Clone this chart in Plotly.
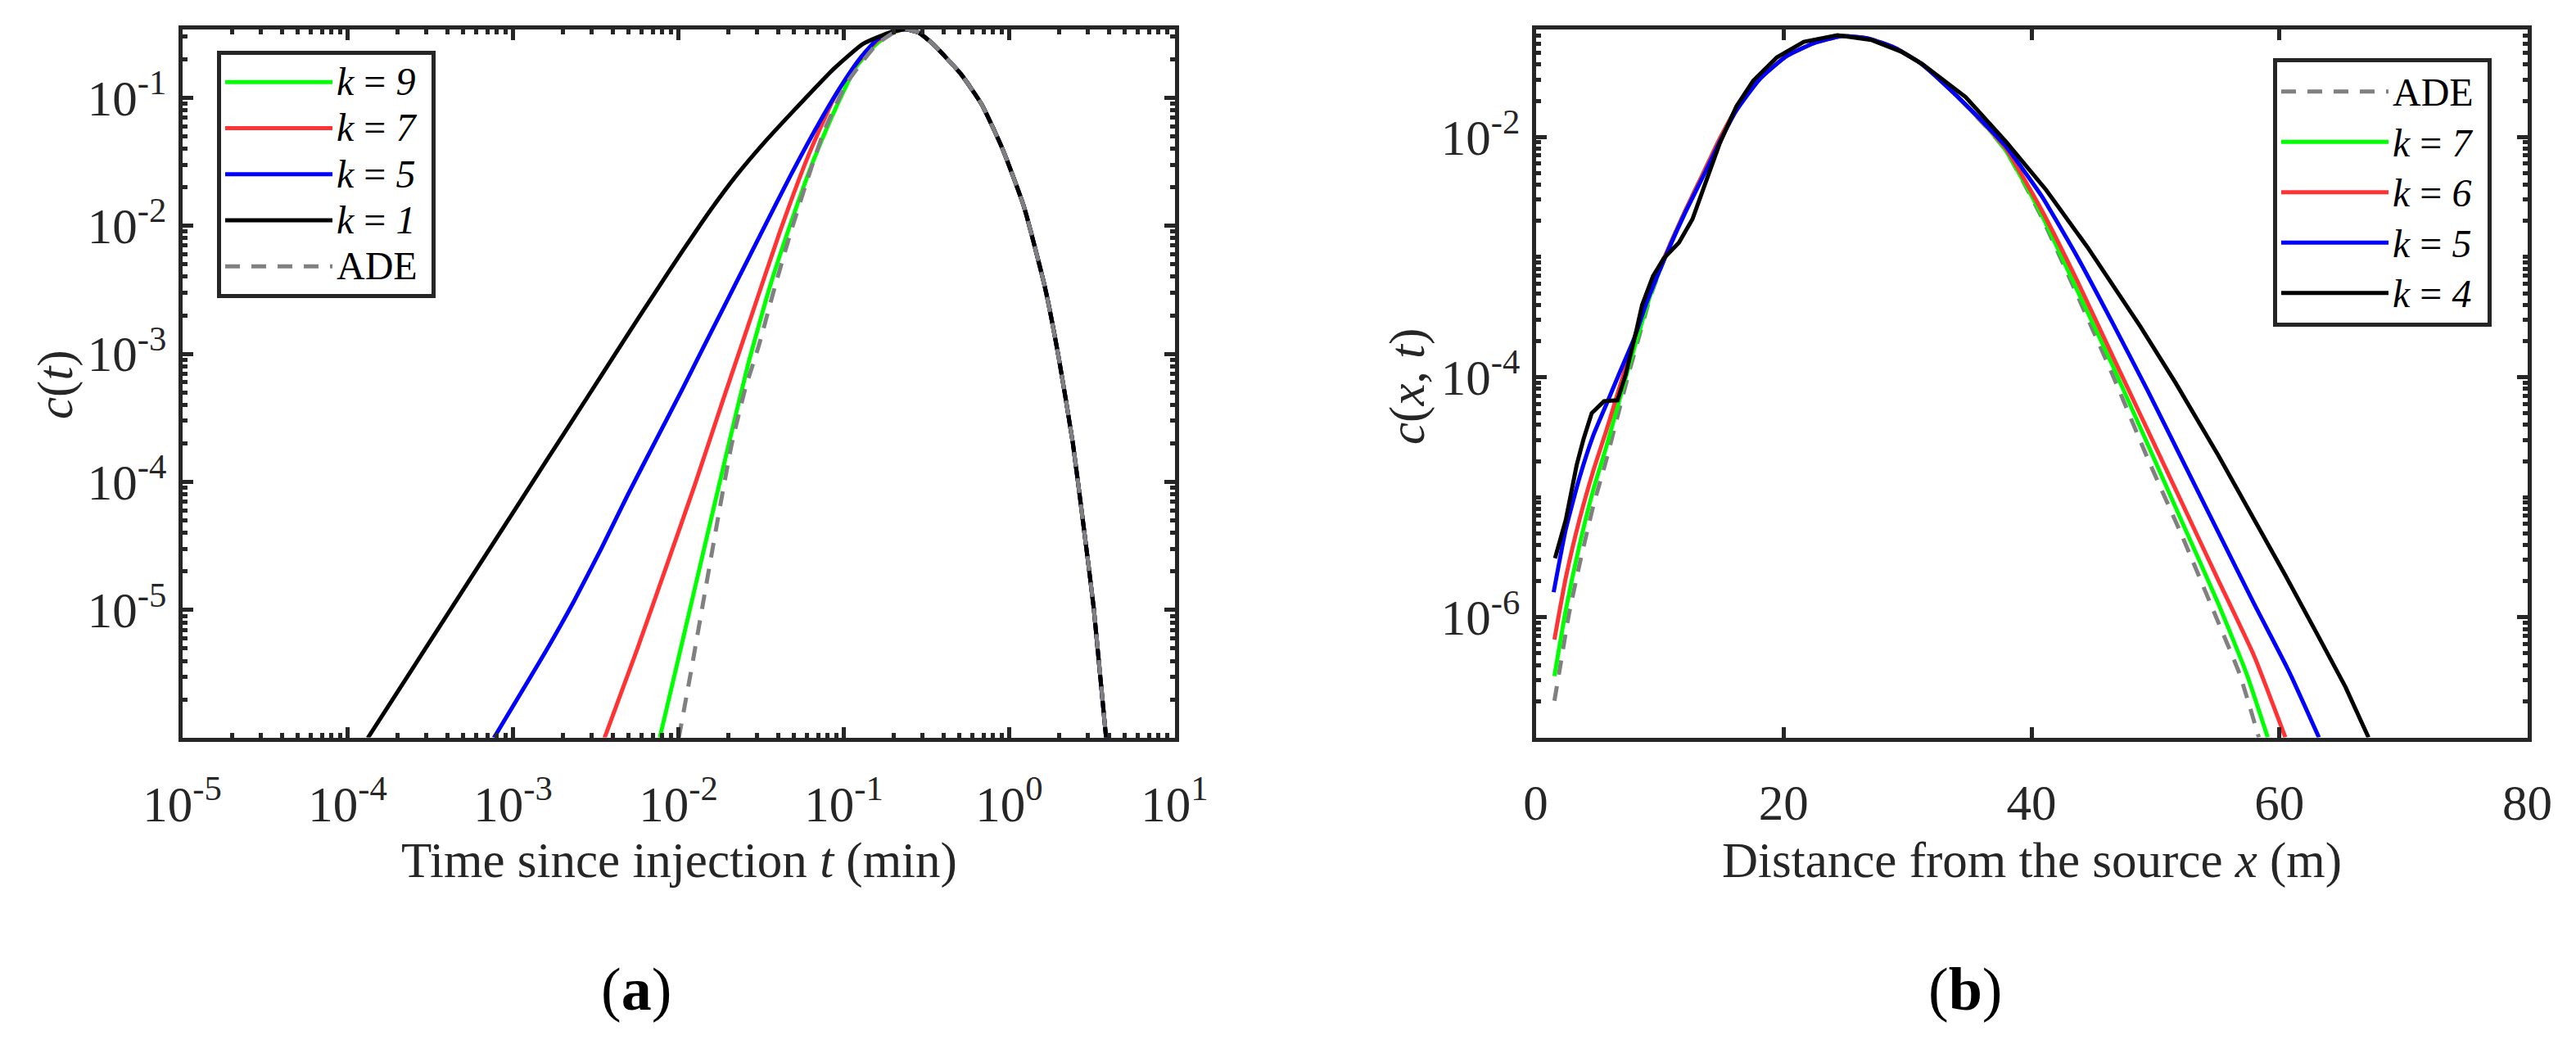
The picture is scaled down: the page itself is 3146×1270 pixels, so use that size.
import plotly.graph_objects as go

W, H = 3146, 1270
FONT = "Liberation Serif"
AXC = "#262626"

# ---------------- Panel (a): c(t) vs time (log-log) ----------------
t_tail = [0.2818, 0.3459, 0.5105, 0.684, 0.916, 1.227, 1.644, 1.995, 2.427, 2.805, 3.25, 3.855]
c_tail = [0.3236, 0.263, 0.1531, 0.0881, 0.0392, 0.01413, 3.32e-3, 9.27e-4, 2.0e-4, 4.71e-5, 1.016e-5, 1.0e-6]

t_k9 = [7.71e-3, 1.062e-2, 1.384e-2, 1.945e-2, 2.63e-2, 3.565e-2, 4.82e-2, 6.52e-2, 8.83e-2, 0.1186, 0.1589, 0.1995, 0.2344]
c_k9 = [1.0e-6, 5.82e-6, 2.51e-5, 1.622e-4, 8.13e-4, 3.311e-3, 1.079e-2, 3.177e-2, 8.017e-2, 0.1738, 0.266, 0.3236, 0.342]

t_k7 = [3.573e-3, 5.623e-3, 8.511e-3, 1.259e-2, 1.862e-2, 2.754e-2, 4.074e-2, 6.026e-2, 8.913e-2, 0.1186, 0.1589, 0.1995, 0.2344]
c_k7 = [1.0e-6, 4.898e-6, 2.239e-5, 9.55e-5, 4.365e-4, 1.95e-3, 8.71e-3, 3.388e-2, 0.1047, 0.1816, 0.278, 0.3273, 0.342]

t_k5 = [7.66e-4, 1.60e-3, 2.34e-3, 3.42e-3, 4.99e-3, 7.28e-3, 1.062e-2, 1.549e-2, 2.265e-2, 3.304e-2, 4.82e-2, 7.03e-2, 9.89e-2, 0.1259, 0.1589, 0.1995, 0.2344]
c_k5 = [1.0e-6, 4.90e-6, 1.175e-5, 3.02e-5, 8.13e-5, 2.09e-4, 5.37e-4, 1.413e-3, 3.715e-3, 9.77e-3, 2.541e-2, 6.237e-2, 0.1303, 0.2042, 0.2851, 0.3311, 0.342]

t_k1 = [1.324e-4, 3.475e-4, 7.46e-4, 1.60e-3, 2.34e-3, 3.42e-3, 4.99e-3, 7.28e-3, 1.062e-2, 1.549e-2, 2.265e-2, 3.304e-2, 4.82e-2, 5.998e-2, 8.85e-2, 0.1306, 0.1928, 0.2344]
c_k1 = [1.0e-6, 6.918e-6, 3.199e-5, 1.479e-4, 3.162e-4, 6.761e-4, 1.445e-3, 3.055e-3, 6.383e-3, 1.303e-2, 2.512e-2, 4.467e-2, 7.586e-2, 0.1023, 0.1718, 0.263, 0.3258, 0.342]

t_ade = [0.01005, 0.01191, 0.01439, 0.01738, 0.02099, 0.02535, 0.03062, 0.03846, 0.0482, 0.06053, 0.07586, 0.1026, 0.1259, 0.1589, 0.1995, 0.2344]
c_ade = [1.0e-6, 3.29e-6, 1.318e-5, 5.28e-5, 1.96e-4, 5.33e-4, 1.156e-3, 3.40e-3, 9.25e-3, 2.333e-2, 5.46e-2, 0.1259, 0.182, 0.263, 0.320, 0.342]

a_xticks = [1e-5, 1e-4, 1e-3, 1e-2, 1e-1, 1e0, 1e1]
a_xtext = ["10<sup>-5</sup>", "10<sup>-4</sup>", "10<sup>-3</sup>", "10<sup>-2</sup>", "10<sup>-1</sup>", "10<sup>0</sup>", "10<sup>1</sup>"]
a_yticks = [1e-5, 1e-4, 1e-3, 1e-2, 1e-1]
a_ytext = ["10<sup>-5</sup>", "10<sup>-4</sup>", "10<sup>-3</sup>", "10<sup>-2</sup>", "10<sup>-1</sup>"]

# ---------------- Panel (b): c(x,t) vs distance (lin-log) ----------------
xb_mid = [10.75, 12.11, 13.74, 14.83, 16.19, 18.1, 20.27, 22.45, 24.63, 26.8, 28.98, 31.16, 33.88]
cb_mid = [1.211e-3, 2.483e-3, 5.57e-3, 9.55e-3, 1.714e-2, 3.076e-2, 4.73e-2, 6.03e-2, 6.90e-2, 6.61e-2, 5.51e-2, 4.03e-2, 2.244e-2]

xb_ade_rise = [1.51, 2.0, 2.65, 3.53, 4.63, 5.73, 6.6, 7.48, 8.36, 9.24]
cb_ade_rise = [2.02e-7, 4.03e-7, 1.02e-6, 2.74e-6, 8.34e-6, 2.10e-5, 4.70e-5, 1.05e-4, 2.21e-4, 4.63e-4]
xb_ade_fall = [36.6, 37.95, 40.8, 43.65, 46.5, 49.36, 52.21, 55.06, 56.78, 58.34]
cb_ade_fall = [1.135e-2, 7.64e-3, 2.17e-3, 4.93e-4, 1.07e-4, 2.12e-5, 4.60e-6, 9.14e-7, 3.40e-7, 1.0e-7]

xb_k7_rise = [1.51, 2.43, 3.53, 4.63, 5.73, 6.6, 7.48, 8.36, 9.24]
cb_k7_rise = [3.24e-7, 1.15e-6, 3.97e-6, 1.135e-5, 2.70e-5, 5.66e-5, 1.19e-4, 2.42e-4, 4.78e-4]
xb_k7_fall = [36.6, 37.95, 40.8, 43.65, 46.5, 49.36, 52.21, 55.06, 57.35, 59.06]
cb_k7_fall = [1.146e-2, 7.64e-3, 2.27e-3, 5.40e-4, 1.28e-4, 2.78e-5, 6.03e-6, 1.31e-6, 3.40e-7, 1.0e-7]

xb_k6_rise = [1.51, 2.43, 3.53, 4.63, 5.73, 6.6, 7.48, 8.36, 9.24]
cb_k6_rise = [6.53e-7, 2.14e-6, 6.50e-6, 1.64e-5, 3.67e-5, 7.24e-5, 1.43e-4, 2.82e-4, 5.25e-4]
xb_k6_fall = [36.6, 37.95, 40.8, 43.65, 46.5, 49.36, 52.21, 55.06, 57.92, 60.48]
cb_k6_fall = [1.161e-2, 7.98e-3, 2.48e-3, 6.46e-4, 1.53e-4, 3.64e-5, 8.65e-6, 2.05e-6, 4.88e-7, 1.0e-7]

xb_k5 = [1.45, 2.43, 3.53, 4.63, 5.73, 6.82, 7.92, 9.02, 10.75, 12.11, 13.74, 14.83, 16.19, 18.1,
         20.27, 22.45, 24.63, 26.8, 28.98, 31.16, 33.88,
         36.6, 37.95, 40.8, 43.65, 46.5, 49.36, 52.21, 55.06, 57.92, 60.77, 63.19]
cb_k5 = [1.62e-6, 5.41e-6, 1.45e-5, 3.24e-5, 6.03e-5, 1.12e-4, 2.07e-4, 4.36e-4, 1.175e-3, 2.40e-3, 5.25e-3, 9.02e-3, 1.66e-2, 3.05e-2,
         4.73e-2, 6.03e-2, 6.90e-2, 6.61e-2, 5.51e-2, 4.03e-2, 2.244e-2,
         1.175e-2, 8.32e-3, 3.24e-3, 1.023e-3, 2.88e-4, 7.76e-5, 2.0e-5, 5.13e-6, 1.32e-6, 3.55e-7, 1.0e-7]

xb_k4 = [1.56, 2.43, 3.31, 3.86, 4.52, 5.51, 6.6, 7.26, 8.14, 8.58, 9.46, 10.33, 11.56, 12.65, 13.74, 14.83,
         16.19, 17.55, 19.46, 21.63, 24.35, 27.07, 29.5, 31.16, 34.69, 37.95, 41.17, 44.51, 48.79,
         51.64, 55.06, 57.92, 60.48, 63.05, 65.33, 67.19]
cb_k4 = [3.10e-6, 6.50e-6, 1.86e-5, 3.05e-5, 5.01e-5, 6.31e-5, 6.41e-5, 1.05e-4, 2.49e-4, 3.97e-4, 6.92e-4, 9.73e-4, 1.32e-3, 2.07e-3, 4.26e-3, 8.73e-3,
         1.795e-2, 2.94e-2, 4.60e-2, 6.19e-2, 7.03e-2, 6.43e-2, 5.13e-2, 4.07e-2, 2.148e-2, 9.12e-3, 3.631e-3, 1.21e-3, 2.63e-4,
         8.91e-5, 2.24e-5, 6.76e-6, 2.24e-6, 7.24e-7, 2.63e-7, 1.0e-7]

b_xticks = [0, 20, 40, 60, 80]
b_yticks = [1e-6, 1e-4, 1e-2]
b_ytext = ["10<sup>-6</sup>", "10<sup>-4</sup>", "10<sup>-2</sup>"]

# ---------------- figure ----------------
fig = go.Figure()
LW = 5
DASH = "18px,14px"


def lg(label, size):
    return '<span style="font-size:%dpx">%s&nbsp;</span>' % (size, label)


left_series = [
    ("<i>k</i> = <i>9</i>", t_k9 + t_tail, c_k9 + c_tail, "#00FF00", "solid"),
    ("<i>k</i> = <i>7</i>", t_k7 + t_tail, c_k7 + c_tail, "#FF3333", "solid"),
    ("<i>k</i> = <i>5</i>", t_k5 + t_tail, c_k5 + c_tail, "#0000FF", "solid"),
    ("<i>k</i> = <i>1</i>", t_k1 + t_tail, c_k1 + c_tail, "#000000", "solid"),
    ("ADE", t_ade + t_tail, c_ade + c_tail, "#808080", DASH),
]
for i, (name, xs, ys, col, dash) in enumerate(left_series):
    fig.add_trace(go.Scatter(x=xs, y=ys, mode="lines", name=lg(name, 48),
                             line=dict(color=col, width=LW, dash=dash, shape="spline", smoothing=0.5),
                             xaxis="x", yaxis="y", legend="legend", legendgroup="a%d" % i))

right_series = [
    ("ADE", xb_ade_rise + xb_mid + xb_ade_fall, cb_ade_rise + cb_mid + cb_ade_fall, "#808080", DASH, "spline"),
    ("<i>k</i> = <i>7</i>", xb_k7_rise + xb_mid + xb_k7_fall, cb_k7_rise + cb_mid + cb_k7_fall, "#00FF00", "solid", "spline"),
    ("<i>k</i> = <i>6</i>", xb_k6_rise + xb_mid + xb_k6_fall, cb_k6_rise + cb_mid + cb_k6_fall, "#FF3333", "solid", "spline"),
    ("<i>k</i> = <i>5</i>", xb_k5, cb_k5, "#0000FF", "solid", "spline"),
    ("<i>k</i> = <i>4</i>", xb_k4, cb_k4, "#000000", "solid", "linear"),
]
for i, (name, xs, ys, col, dash, shp) in enumerate(right_series):
    ln = dict(color=col, width=LW, dash=dash, shape=shp)
    if shp == "spline":
        ln["smoothing"] = 0.5
    fig.add_trace(go.Scatter(x=xs, y=ys, mode="lines", name=lg(name, 48), line=ln,
                             xaxis="x2", yaxis="y2", legend="legend2", legendgroup="b%d" % i))


# minor tick positions (axis decoration only)
def log_minor(lo, hi):
    vals = []
    for e in range(lo, hi):
        for m in range(2, 10):
            vals.append(m * 10.0 ** e)
    return vals


a_xminor = log_minor(-5, 1)
a_yminor = log_minor(-6, 0)
b_yminor = log_minor(-7, -1) + [1e-7, 1e-5, 1e-3]

tickfont = dict(family=FONT, size=61, color=AXC)
base = dict(showline=True, linewidth=5, linecolor=AXC, mirror="allticks", ticks="inside",
            ticklen=13, tickwidth=4.5, tickcolor=AXC, showgrid=False, zeroline=False,
            tickfont=tickfont)
minor = dict(ticks="inside", ticklen=6, tickwidth=4.5, tickcolor=AXC, showgrid=False)

yd = [1 - 900.5 / H, 1 - 35.5 / H]
fig.update_layout(
    width=W, height=H, margin=dict(l=0, r=0, t=0, b=0, autoexpand=False),
    paper_bgcolor="white", plot_bgcolor="white",
    font=dict(family=FONT, color=AXC),
    xaxis=dict(base, type="log", range=[-5, 1], domain=[222.5 / W, 1434.5 / W],
               tickmode="array", tickvals=a_xticks, ticktext=a_xtext, ticklabelstandoff=24,
               minor=dict(minor, tickvals=a_xminor), anchor="y"),
    yaxis=dict(base, type="log", range=[-5.995, -0.464], domain=yd,
               tickmode="array", tickvals=a_yticks, ticktext=a_ytext, ticklabelstandoff=2,
               minor=dict(minor, tickvals=a_yminor), anchor="x"),
    xaxis2=dict(base, type="linear", range=[0, 80], domain=[1875.5 / W, 3086.5 / W],
                tickmode="array", tickvals=b_xticks, ticklabelstandoff=22, anchor="y2"),
    yaxis2=dict(base, type="log", range=[-7, -1.102], domain=yd,
                tickmode="array", tickvals=b_yticks, ticktext=b_ytext, ticklabelstandoff=2,
                minor=dict(minor, tickvals=b_yminor), anchor="x2"),
    legend=dict(x=265 / W, y=1 - 62 / H, xanchor="left", yanchor="top", bgcolor="white",
                bordercolor=AXC, borderwidth=5, itemwidth=131, tracegroupgap=0,
                font=dict(family=FONT, size=41, color="black")),
    legend2=dict(x=2776 / W, y=1 - 71 / H, xanchor="left", yanchor="top", bgcolor="white",
                 bordercolor=AXC, borderwidth=5, itemwidth=131, tracegroupgap=0,
                 font=dict(family=FONT, size=45, color="black")),
    showlegend=True,
)

ann = [
    dict(text="Time since injection <i>t</i> (min)", x=829 / W, y=1 - 1051 / H, size=61, angle=0, col=AXC),
    dict(text="Distance from the source <i>x</i> (m)", x=2481 / W, y=1 - 1051 / H, size=61, angle=0, col=AXC),
    dict(text="<i>c</i>(<i>t</i>)", x=68 / W, y=1 - 470 / H, size=61, angle=-90, col=AXC),
    dict(text="<i>c</i>(<i>x</i>, <i>t</i>)", x=1719 / W, y=1 - 472 / H, size=61, angle=-90, col=AXC),
    dict(text="(<b>a</b>)", x=777 / W, y=1 - 1208 / H, size=74, angle=0, col="black"),
    dict(text="(<b>b</b>)", x=2400 / W, y=1 - 1208 / H, size=74, angle=0, col="black"),
]
for a in ann:
    fig.add_annotation(text=a["text"], x=a["x"], y=a["y"], xref="paper", yref="paper",
                       xanchor="center", yanchor="middle", showarrow=False, textangle=a["angle"],
                       font=dict(family=FONT, size=a["size"], color=a["col"]))

fig.write_html("out.html", config={"displayModeBar": False},
               post_script="document.body.style.margin='0';document.body.style.overflow='hidden';")
